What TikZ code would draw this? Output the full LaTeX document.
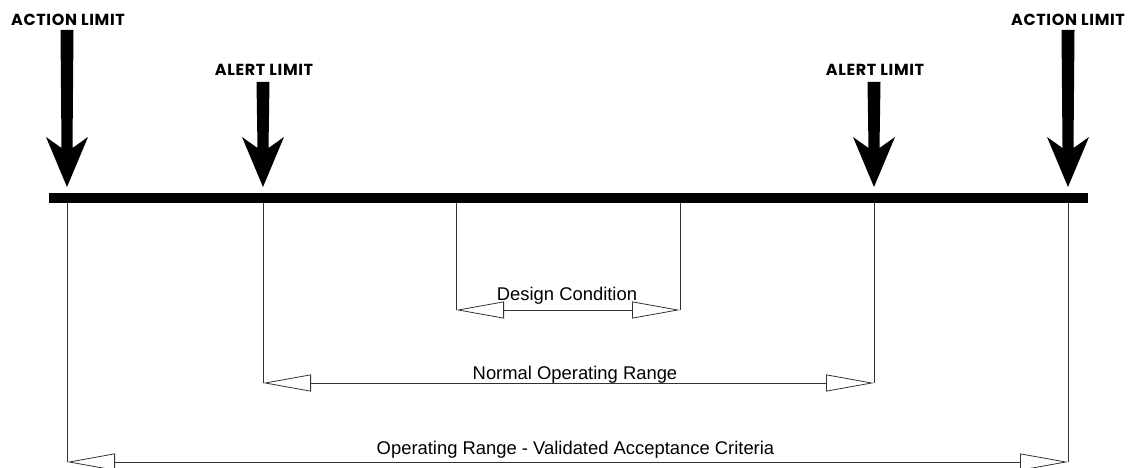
\documentclass[tikz,border=0pt]{standalone}
\usepackage{fontspec}
\setmainfont{Liberation Sans}
\newfontfamily\limfont[LetterSpace=4]{Poppins}
\usetikzlibrary{arrows.meta}
\newcommand\limitarrow[2]{\fill (#1-6.5,#2) -- (#1+6.5,#2) -- (#1+5.5,148) -- (#1+21,137) -- (#1,187) -- (#1-21,137) -- (#1-5.5,148) -- cycle;}
\begin{document}
\begin{tikzpicture}[x=1pt,y=-1pt,
  limlabel/.style={font=\limfont\bfseries\fontsize{16}{16}\selectfont, inner sep=0pt, anchor=base},
  dimlabel/.style={font=\fontsize{18.4}{18.4}\selectfont, inner sep=0pt, anchor=base},
  dimline/.style={line width=0.8pt, draw=black!80},
  dimarrow/.style={dimline, {Triangle[open,length=48pt,width=17pt]}-{Triangle[open,length=48pt,width=17pt]}},
]
\useasboundingbox (0,0) rectangle (1130,468);
% main bar
\node[fill=black, minimum width=1039pt, minimum height=10pt, inner sep=0pt, anchor=west] (bar) at (49,198) {};
% limit arrows
\limitarrow{67}{30}
\limitarrow{263}{82}
\limitarrow{874}{82}
\limitarrow{1068}{30}
\node[limlabel] (actL) at (68,26) {ACTION LIMIT};
\node[limlabel] (alL) at (264,76) {ALERT LIMIT};
\node[limlabel] (alR) at (875,76) {ALERT LIMIT};
\node[limlabel] (actR) at (1068,26) {ACTION LIMIT};
% dimension end points
\coordinate (dcL) at (456,310);
\coordinate (dcR) at (680,310);
\coordinate (noL) at (263,383);
\coordinate (noR) at (874,383);
\coordinate (opL) at (67,462);
\coordinate (opR) at (1068,462);
% extension lines
\draw[dimline] (dcL |- bar.south) -- (dcL);
\draw[dimline] (dcR |- bar.south) -- (dcR);
\draw[dimline] (noL |- bar.south) -- (noL);
\draw[dimline] (noR |- bar.south) -- (noR);
\draw[dimline] (opL |- bar.south) -- (opL);
\draw[dimline] (opR |- bar.south) -- (opR);
% dimension arrows
\draw[dimarrow] (dcL) -- (dcR);
\draw[dimarrow] (noL) -- (noR);
\draw[dimarrow] (opL) -- (opR);
% labels
\node[dimlabel] (dc) at (567,300) {Design Condition};
\node[dimlabel] (no) at (575,379) {Normal Operating Range};
\node[dimlabel] (op) at (575.5,454) {Operating Range - Validated Acceptance Criteria};
\end{tikzpicture}
\end{document}
